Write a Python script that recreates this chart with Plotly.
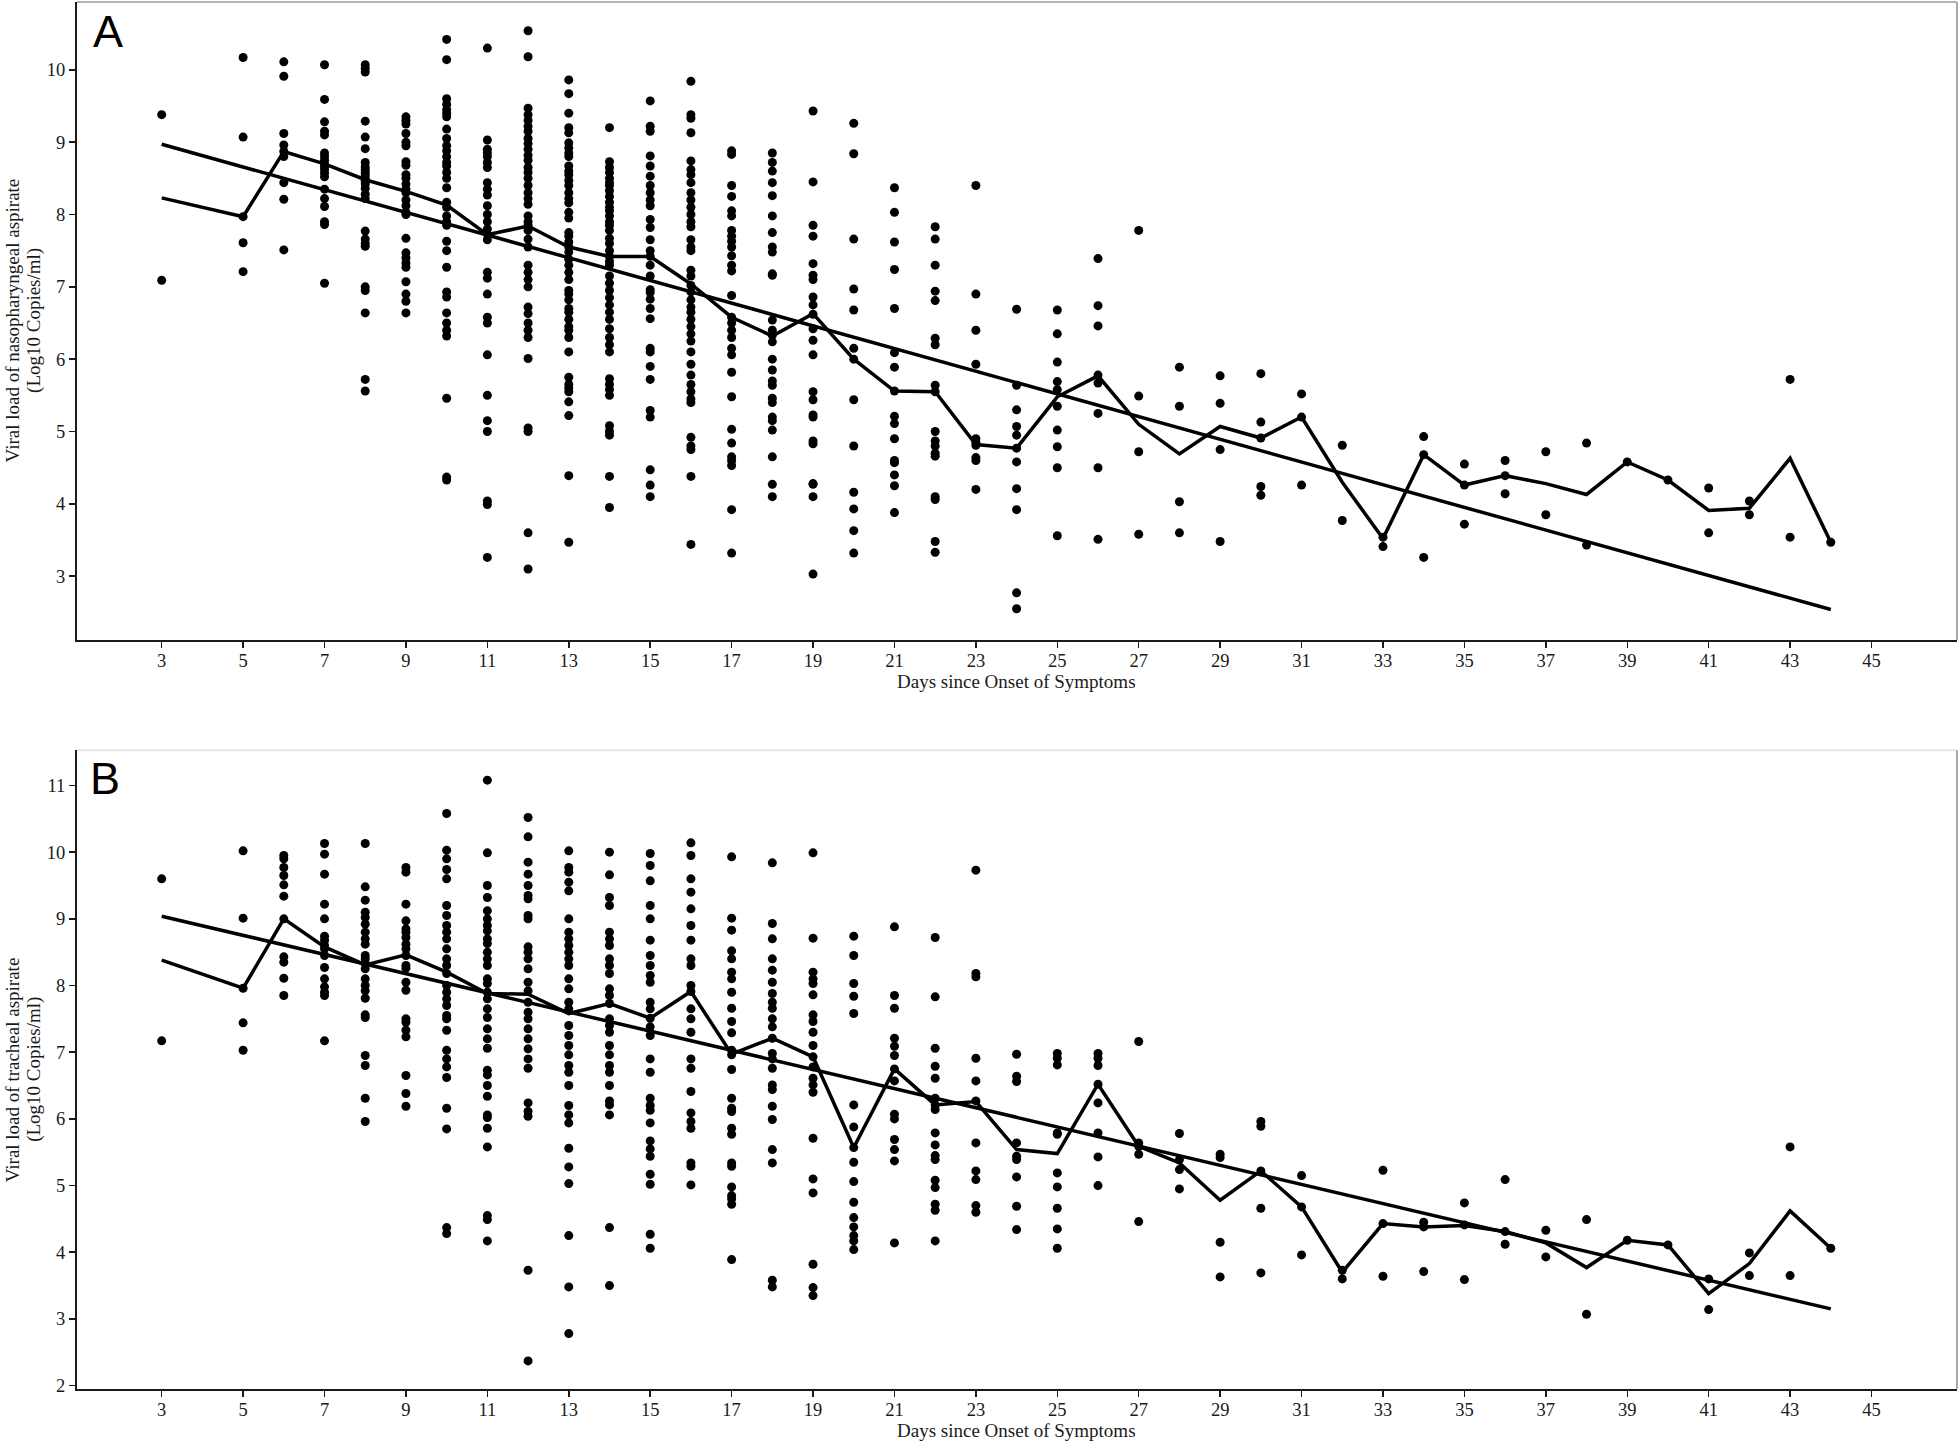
import plotly.graph_objects as go

# ---------------- data ----------------
days = [3, 5, 6, 7, 8, 9, 10, 11, 12, 13, 14, 15, 16, 17, 18, 19, 20, 21, 22, 23,
        24, 25, 26, 27, 28, 29, 30, 31, 32, 33, 34, 35, 36, 37, 38, 39, 40, 41, 42, 43, 44]
x_ticks = list(range(3, 46, 2))

# Panel A: nasopharyngeal aspirate (log10 copies/ml), one list per day
a_loads = [
    [9.38, 7.09],
    [10.17, 9.07, 7.97, 7.61, 7.21],
    [10.11, 9.91, 9.12, 8.96, 8.87, 8.80, 8.44, 8.21, 7.51],
    [10.07, 9.59, 9.28, 9.15, 9.10, 8.85, 8.80, 8.75, 8.70, 8.66, 8.62, 8.57, 8.52, 8.35, 8.22, 8.11, 7.90, 7.86, 7.05],
    [10.07, 10.02, 9.97, 9.29, 9.07, 8.91, 8.72, 8.66, 8.62, 8.58, 8.54, 8.50, 8.46, 8.42, 8.36, 8.28, 8.22, 7.77, 7.66, 7.60, 7.56, 7.00, 6.95, 6.64, 5.72, 5.56],
    [9.35, 9.30, 9.25, 9.12, 9.00, 8.95, 8.73, 8.68, 8.55, 8.50, 8.42, 8.35, 8.30, 8.20, 8.12, 8.03, 8.00, 7.67, 7.47, 7.40, 7.33, 7.27, 7.07, 6.90, 6.80, 6.64],
    [10.42, 10.14, 9.60, 9.52, 9.45, 9.40, 9.35, 9.18, 9.05, 8.95, 8.88, 8.80, 8.72, 8.67, 8.58, 8.50, 8.37, 8.17, 8.10, 7.98, 7.90, 7.85, 7.63, 7.50, 7.27, 6.93, 6.86, 6.64, 6.50, 6.40, 6.32, 5.46, 4.37, 4.33],
    [10.30, 9.03, 8.90, 8.85, 8.80, 8.72, 8.65, 8.44, 8.35, 8.27, 8.12, 8.00, 7.90, 7.80, 7.73, 7.65, 7.20, 7.12, 6.90, 6.58, 6.50, 6.06, 5.50, 5.15, 5.00, 4.04, 3.99, 3.26],
    [10.54, 10.18, 9.47, 9.38, 9.30, 9.22, 9.15, 9.05, 8.98, 8.90, 8.82, 8.75, 8.65, 8.58, 8.50, 8.40, 8.30, 8.22, 8.14, 7.98, 7.90, 7.85, 7.78, 7.66, 7.55, 7.30, 7.20, 7.10, 7.00, 6.72, 6.63, 6.50, 6.40, 6.30, 6.01, 5.05, 5.00, 3.60, 3.10],
    [9.86, 9.67, 9.40, 9.20, 9.13, 8.99, 8.92, 8.85, 8.80, 8.67, 8.60, 8.55, 8.47, 8.40, 8.30, 8.22, 8.16, 8.03, 7.95, 7.75, 7.70, 7.62, 7.55, 7.48, 7.38, 7.30, 7.20, 7.10, 6.95, 6.90, 6.82, 6.70, 6.65, 6.55, 6.45, 6.40, 6.30, 6.10, 5.75, 5.65, 5.60, 5.55, 5.41, 5.22, 4.39, 3.47],
    [9.20, 8.73, 8.65, 8.58, 8.50, 8.44, 8.40, 8.33, 8.25, 8.17, 8.10, 8.05, 7.98, 7.90, 7.85, 7.78, 7.67, 7.60, 7.50, 7.42, 7.35, 7.30, 7.15, 7.05, 6.95, 6.85, 6.75, 6.65, 6.55, 6.42, 6.30, 6.20, 6.10, 5.73, 5.65, 5.58, 5.50, 5.08, 5.00, 4.95, 4.38, 3.95],
    [9.57, 9.22, 9.15, 8.81, 8.67, 8.53, 8.40, 8.30, 8.20, 8.12, 7.93, 7.82, 7.65, 7.50, 7.42, 7.30, 7.15, 6.96, 6.92, 6.83, 6.70, 6.56, 6.15, 6.10, 5.90, 5.72, 5.29, 5.20, 4.47, 4.26, 4.10],
    [9.84, 9.38, 9.33, 9.13, 8.74, 8.62, 8.55, 8.44, 8.30, 8.20, 8.10, 8.00, 7.90, 7.83, 7.65, 7.55, 7.50, 7.23, 7.15, 7.02, 6.93, 6.82, 6.72, 6.65, 6.55, 6.45, 6.35, 6.25, 6.10, 5.93, 5.78, 5.65, 5.55, 5.45, 5.40, 4.92, 4.80, 4.75, 4.38, 3.44],
    [8.88, 8.83, 8.40, 8.25, 8.05, 7.98, 7.78, 7.70, 7.63, 7.55, 7.43, 7.30, 7.22, 6.88, 6.58, 6.50, 6.40, 6.30, 6.15, 6.06, 5.82, 5.48, 5.03, 4.84, 4.65, 4.60, 4.53, 3.92, 3.32],
    [8.85, 8.72, 8.60, 8.44, 8.26, 7.98, 7.75, 7.55, 7.48, 7.18, 7.16, 6.54, 6.40, 6.33, 6.24, 6.00, 5.85, 5.70, 5.64, 5.46, 5.40, 5.20, 5.15, 5.02, 4.65, 4.27, 4.10],
    [9.43, 8.45, 7.85, 7.70, 7.32, 7.16, 7.10, 6.86, 6.75, 6.62, 6.42, 6.26, 6.06, 5.55, 5.44, 5.23, 5.20, 4.87, 4.83, 4.28, 4.27, 4.10, 3.03],
    [9.26, 8.84, 7.66, 6.97, 6.68, 6.15, 6.00, 5.44, 4.80, 4.16, 3.93, 3.63, 3.32],
    [8.37, 8.03, 7.62, 7.24, 6.70, 6.09, 5.89, 5.56, 5.21, 5.11, 4.90, 4.60, 4.57, 4.40, 4.25, 3.88],
    [7.83, 7.66, 7.30, 6.94, 6.81, 6.29, 6.20, 5.64, 5.55, 5.00, 4.87, 4.80, 4.70, 4.66, 4.10, 4.06, 3.48, 3.33],
    [8.40, 6.90, 6.40, 5.93, 4.90, 4.85, 4.81, 4.64, 4.60, 4.20],
    [6.69, 5.64, 5.30, 5.07, 4.95, 4.77, 4.58, 4.21, 3.92, 2.77, 2.55],
    [6.68, 6.35, 5.96, 5.69, 5.58, 5.35, 5.02, 4.79, 4.50, 3.56],
    [7.39, 6.74, 6.46, 5.78, 5.67, 5.25, 4.50, 3.51],
    [7.78, 5.49, 4.72, 3.58],
    [5.89, 5.35, 4.03, 3.60],
    [5.77, 5.39, 4.75, 3.48],
    [5.80, 5.13, 4.91, 4.24, 4.12],
    [5.52, 5.20, 4.26],
    [4.81, 3.77],
    [3.54, 3.41],
    [4.93, 4.68, 3.26],
    [4.55, 4.26, 3.72],
    [4.60, 4.39, 4.14],
    [4.72, 3.85],
    [4.84, 3.43],
    [4.58],
    [4.33],
    [4.22, 3.60],
    [4.04, 3.85],
    [5.72, 3.54],
    [3.47],
]
a_median = [8.23, 7.97, 8.87, 8.70, 8.48, 8.32, 8.13, 7.72, 7.84, 7.55, 7.42, 7.42, 7.04, 6.58,
            6.32, 6.63, 6.00, 5.56, 5.55, 4.82, 4.77, 5.48, 5.77, 5.10, 4.69, 5.07, 4.91, 5.20,
            4.30, 3.52, 4.68, 4.26, 4.39, 4.28, 4.13, 4.58, 4.33, 3.91, 3.94, 4.63, 3.47]
trend_days = [3, 44]
a_trend = [8.97, 2.54]

# Panel B: tracheal aspirate (log10 copies/ml), one list per day
b_loads = [
    [9.60, 7.17],
    [10.02, 9.01, 7.96, 7.44, 7.03],
    [9.95, 9.90, 9.77, 9.65, 9.51, 9.34, 9.00, 8.43, 8.35, 8.11, 7.85],
    [10.13, 9.97, 9.67, 9.22, 9.00, 8.74, 8.68, 8.60, 8.55, 8.45, 8.27, 8.10, 7.98, 7.90, 7.85, 7.17],
    [10.13, 9.48, 9.28, 9.10, 9.02, 8.92, 8.80, 8.70, 8.62, 8.45, 8.40, 8.33, 8.25, 8.10, 8.00, 7.92, 7.81, 7.56, 7.52, 6.95, 6.80, 6.31, 5.96],
    [9.77, 9.70, 9.22, 8.97, 8.85, 8.80, 8.72, 8.62, 8.55, 8.45, 8.30, 8.26, 8.05, 7.93, 7.50, 7.45, 7.33, 7.23, 6.65, 6.38, 6.19],
    [10.58, 10.03, 9.90, 9.74, 9.60, 9.20, 9.05, 8.90, 8.80, 8.70, 8.55, 8.40, 8.30, 8.18, 8.00, 7.90, 7.80, 7.70, 7.55, 7.50, 7.33, 7.03, 6.90, 6.78, 6.62, 6.16, 5.85, 4.37, 4.28],
    [11.08, 9.99, 9.50, 9.32, 9.12, 9.00, 8.90, 8.82, 8.70, 8.63, 8.50, 8.40, 8.30, 8.10, 8.03, 7.90, 7.80, 7.65, 7.52, 7.35, 7.20, 7.06, 6.73, 6.66, 6.50, 6.34, 6.06, 6.02, 5.86, 5.58, 4.55, 4.49, 4.17],
    [10.52, 10.23, 9.85, 9.67, 9.50, 9.35, 9.30, 9.05, 9.00, 8.58, 8.50, 8.40, 8.25, 8.05, 7.92, 7.75, 7.60, 7.50, 7.35, 7.20, 7.05, 6.90, 6.76, 6.24, 6.11, 6.04, 3.73, 2.37],
    [10.02, 9.77, 9.70, 9.55, 9.42, 9.00, 8.80, 8.70, 8.60, 8.50, 8.40, 8.30, 8.10, 7.95, 7.75, 7.65, 7.40, 7.25, 7.10, 6.96, 6.80, 6.70, 6.50, 6.20, 6.06, 5.94, 5.56, 5.28, 5.03, 4.25, 3.48, 2.78],
    [10.00, 9.66, 9.32, 9.20, 8.80, 8.70, 8.60, 8.40, 8.30, 8.18, 7.95, 7.85, 7.73, 7.50, 7.40, 7.30, 7.10, 6.96, 6.80, 6.70, 6.50, 6.27, 6.21, 6.06, 4.37, 3.50],
    [9.98, 9.80, 9.57, 9.20, 9.00, 8.68, 8.45, 8.30, 8.15, 8.05, 7.75, 7.65, 7.51, 7.38, 7.25, 6.90, 6.70, 6.31, 6.20, 6.13, 5.94, 5.67, 5.55, 5.44, 5.17, 5.02, 4.27, 4.06],
    [10.14, 9.95, 9.60, 9.40, 9.15, 8.90, 8.68, 8.40, 8.30, 8.00, 7.91, 7.65, 7.50, 7.30, 6.90, 6.76, 6.41, 6.09, 5.96, 5.86, 5.34, 5.29, 5.01],
    [9.93, 9.01, 8.83, 8.52, 8.40, 8.20, 8.10, 7.90, 7.66, 7.46, 7.29, 7.03, 6.96, 6.74, 6.31, 6.16, 6.11, 5.86, 5.77, 5.34, 5.29, 4.98, 4.85, 4.80, 4.72, 3.89],
    [9.84, 8.93, 8.70, 8.40, 8.23, 8.05, 7.88, 7.75, 7.66, 7.50, 7.38, 7.21, 6.98, 6.90, 6.76, 6.51, 6.44, 6.19, 5.99, 5.54, 5.34, 3.58, 3.48],
    [9.99, 8.71, 8.20, 8.10, 8.03, 7.86, 7.56, 7.46, 7.30, 7.10, 6.93, 6.78, 6.61, 6.51, 6.40, 5.71, 5.10, 4.89, 3.82, 3.47, 3.35],
    [8.74, 8.45, 8.03, 7.84, 7.58, 6.21, 5.88, 5.57, 5.35, 5.06, 4.75, 4.52, 4.38, 4.25, 4.17, 4.04],
    [8.88, 7.85, 7.66, 7.21, 7.09, 6.95, 6.75, 6.57, 6.07, 6.00, 5.69, 5.54, 5.37, 4.14],
    [8.72, 7.83, 7.06, 6.79, 6.61, 6.31, 6.21, 6.14, 5.79, 5.61, 5.45, 5.39, 5.08, 4.97, 4.72, 4.63, 4.17],
    [9.73, 8.18, 8.13, 6.91, 6.57, 6.27, 5.64, 5.22, 5.09, 4.70, 4.60],
    [6.97, 6.64, 6.56, 5.64, 5.44, 5.39, 5.13, 4.69, 4.34],
    [6.98, 6.91, 6.81, 5.79, 5.77, 5.19, 4.98, 4.66, 4.35, 4.06],
    [6.98, 6.91, 6.80, 6.52, 6.24, 5.79, 5.43, 5.00],
    [7.16, 5.64, 5.59, 5.47, 4.46],
    [5.78, 5.39, 5.24, 4.95],
    [5.47, 5.42, 4.15, 3.63],
    [5.96, 5.89, 5.22, 4.66, 3.69],
    [5.15, 4.68, 3.96],
    [3.73, 3.60],
    [5.23, 4.43, 3.64],
    [4.45, 4.38, 3.71],
    [4.74, 4.41, 3.59],
    [5.09, 4.31, 4.12],
    [4.33, 3.93],
    [4.49, 3.07],
    [4.18],
    [4.11],
    [3.60, 3.14],
    [3.99, 3.65],
    [5.58, 3.65],
    [4.06],
]
b_median = [8.38, 7.96, 9.00, 8.58, 8.31, 8.46, 8.20, 7.88, 7.87, 7.58, 7.73, 7.51, 7.91, 6.97,
            7.21, 6.93, 5.57, 6.75, 6.21, 6.26, 5.54, 5.48, 6.52, 5.59, 5.34, 4.78, 5.22, 4.68,
            3.70, 4.43, 4.38, 4.40, 4.31, 4.14, 3.77, 4.18, 4.11, 3.38, 3.83, 4.62, 4.06]
b_trend = [9.04, 3.15]

a_y_ticks = list(range(3, 11))
b_y_ticks = list(range(2, 12))

a_title_lines = ["Viral load of nasopharyngeal aspirate", "(Log10 Copies/ml)"]
b_title_lines = ["Viral load of tracheal aspirate", "(Log10 Copies/ml)"]
x_title = "Days since Onset of Symptoms"

# ---------------- layout helpers ----------------
W, H = 1960, 1450
def fx(p):
    return p / W
def fy(p):
    return 1 - p / H

SERIF = "Liberation Serif, Times New Roman, serif"
SANS = "Liberation Sans, Arial, sans-serif"
INK = "#1a1a1a"

fig = go.Figure()

panels = [
    (a_loads, a_median, a_trend, "x", "y"),
    (b_loads, b_median, b_trend, "x2", "y2"),
]
for loads, med, trend, xa, ya in panels:
    px_, py_ = [], []
    for d, vals in zip(days, loads):
        for v in vals:
            px_.append(d)
            py_.append(v)
    fig.add_trace(go.Scatter(x=px_, y=py_, mode="markers", xaxis=xa, yaxis=ya,
                             marker=dict(color="black", size=9, line=dict(width=0)),
                             hoverinfo="skip", showlegend=False))
    fig.add_trace(go.Scatter(x=days, y=med, mode="lines", xaxis=xa, yaxis=ya,
                             line=dict(color="black", width=3.5), hoverinfo="skip",
                             showlegend=False))
    fig.add_trace(go.Scatter(x=trend_days, y=trend, mode="lines", xaxis=xa, yaxis=ya,
                             line=dict(color="black", width=3.5), hoverinfo="skip",
                             showlegend=False))

xdom = [fx(77), fx(1957)]
common_axis = dict(showgrid=False, zeroline=False, showline=True, linecolor=INK, linewidth=2,
                   ticks="outside", ticklen=6, tickwidth=1.5, tickcolor=INK,
                   tickfont=dict(family=SERIF, size=18.5, color=INK))

fig.update_layout(
    width=W, height=H,
    margin=dict(l=0, r=0, t=0, b=0),
    paper_bgcolor="white", plot_bgcolor="white",
    showlegend=False,
    xaxis=dict(domain=xdom, range=[0.92, 47.1], tickmode="array", tickvals=x_ticks,
               anchor="y", ticklabelstandoff=-3, **common_axis),
    yaxis=dict(domain=[fy(643), fy(2)], range=[2.12, 10.937], tickmode="array",
               tickvals=a_y_ticks, anchor="x", **common_axis),
    xaxis2=dict(domain=xdom, range=[0.92, 47.1], tickmode="array", tickvals=x_ticks,
                anchor="y2", ticklabelstandoff=-3, **common_axis),
    yaxis2=dict(domain=[fy(1396), fy(754)], range=[1.945, 11.527], tickmode="array",
                tickvals=b_y_ticks, anchor="x2", **common_axis),
)

shapes = []
for xr, yr, topcol in [("x domain", "y domain", "#b4b4b4"), ("x2 domain", "y2 domain", "#e4e4e4")]:
    shapes.append(dict(type="line", xref=xr, yref=yr, x0=0, x1=1, y0=1, y1=1,
                       line=dict(color=topcol, width=2)))
    shapes.append(dict(type="line", xref=xr, yref=yr, x0=1, x1=1, y0=0, y1=1,
                       line=dict(color="#a8a8a8", width=2)))
fig.update_layout(shapes=shapes)

annotations = [
    dict(text="A", x=fx(91), y=fy(31.5), xref="paper", yref="paper", xanchor="left",
         yanchor="middle", showarrow=False, font=dict(family=SANS, size=45, color="black")),
    dict(text="B", x=fx(88), y=fy(782.5), xref="paper", yref="paper", xanchor="left",
         yanchor="middle", showarrow=False, font=dict(family=SANS, size=45, color="black")),
    dict(text=x_title, x=fx(1017), y=fy(685), xref="paper", yref="paper", xanchor="center",
         yanchor="middle", showarrow=False, font=dict(family=SERIF, size=19, color=INK)),
    dict(text=x_title, x=fx(1017), y=fy(1437.5), xref="paper", yref="paper", xanchor="center",
         yanchor="middle", showarrow=False, font=dict(family=SERIF, size=19, color=INK)),
]
for lines, yc in [(a_title_lines, 322.5), (b_title_lines, 1075)]:
    for line, xc in zip(lines, [12.5, 34]):
        annotations.append(dict(text=line, x=fx(xc), y=fy(yc), xref="paper", yref="paper",
                                xanchor="center", yanchor="middle", textangle=-90,
                                showarrow=False, font=dict(family=SERIF, size=19, color=INK)))
fig.update_layout(annotations=annotations)

fig.write_html("out.html", config={"displayModeBar": False, "staticPlot": True},
               post_script="document.body.style.margin='0';")
